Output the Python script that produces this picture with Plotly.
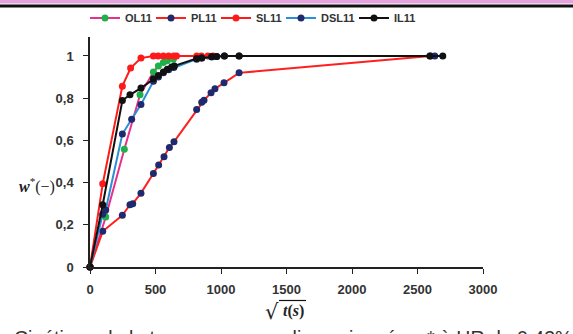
import plotly.graph_objects as go

# ---- data ----
ol11_x = [0, 120, 262, 382, 484, 522, 560, 590, 636]
ol11_y = [0, 0.237, 0.558, 0.816, 0.924, 0.953, 0.969, 0.978, 0.985]

pl11_x = [0, 97, 247, 305, 326, 389, 484, 524, 565, 606, 641, 814, 853, 870, 924, 954, 1023, 1138, 2600]
pl11_y = [0, 0.169, 0.245, 0.295, 0.30, 0.35, 0.443, 0.483, 0.523, 0.566, 0.593, 0.746, 0.781, 0.79, 0.826, 0.845, 0.873, 0.92, 1.0]

sl11_x = [0, 97, 247, 310, 389, 484, 520, 560, 600, 640, 660, 815, 850, 900, 940]
sl11_y = [0, 0.394, 0.857, 0.943, 0.99, 1, 1, 1, 1, 1, 1, 1, 1, 1, 1]

dsl11_x = [0, 97, 120, 247, 318, 389, 484, 522, 560, 600, 640, 814, 853, 929, 967, 1026, 1138, 2632]
dsl11_y = [0, 0.25, 0.27, 0.63, 0.70, 0.77, 0.88, 0.90, 0.92, 0.935, 0.945, 0.985, 0.99, 0.995, 0.998, 1.0, 1.0, 1.0]

il11_x = [0, 97, 247, 305, 389, 484, 522, 560, 590, 623, 644, 814, 853, 929, 967, 1026, 1138, 2594, 2693]
il11_y = [0, 0.295, 0.789, 0.816, 0.848, 0.892, 0.908, 0.924, 0.937, 0.948, 0.953, 0.988, 0.991, 0.998, 0.998, 1, 1, 1, 1]

x_ticks = [0, 500, 1000, 1500, 2000, 2500, 3000]
y_ticks = [0, 0.2, 0.4, 0.6, 0.8, 1]
y_ticktext = ["0", "0,2", "0,4", "0,6", "0,8", "1"]

series = [
    ("OL11", ol11_x, ol11_y, "#e8308a", "#1fb04a"),
    ("PL11", pl11_x, pl11_y, "#ff1f1f", "#1f2a6e"),
    ("SL11", sl11_x, sl11_y, "#ff1a1a", "#ff1a1a"),
    ("DSL11", dsl11_x, dsl11_y, "#2a8fd8", "#1f2a6e"),
    ("IL11", il11_x, il11_y, "#111111", "#111111"),
]

W, H = 573, 334
L, R, T, B = 90, 90, 37, 67
pw, ph = W - L - R, H - T - B

# legend entry marker centres (pixels)
legend_dots = [107, 173, 238, 303, 376]
legend_ids = ["legend", "legend2", "legend3", "legend4", "legend5"]

fig = go.Figure()
for (name, xs, ys, lc, mc), lid in zip(series, legend_ids):
    fig.add_trace(go.Scatter(
        x=xs, y=ys, name=f"<b>{name}</b>", mode="lines+markers",
        line=dict(color=lc, width=2),
        marker=dict(color=mc, size=7),
        cliponaxis=False, legend=lid,
    ))

def px(xp):
    return (xp - L) / pw

def py(yp):
    return (H - B - yp) / ph

legend_layout = {}
for lid, dot in zip(legend_ids, legend_dots):
    legend_layout[lid] = dict(
        orientation="h", xref="container", yref="container",
        x=(dot - 22) / W, y=1 - 18 / H, xanchor="left", yanchor="middle",
        font=dict(family="Liberation Sans", size=11, color="#333333"),
        itemwidth=30, bgcolor="rgba(0,0,0,0)",
    )

fig.update_layout(
    width=W, height=H,
    margin=dict(l=L, r=R, t=T, b=B, autoexpand=False),
    paper_bgcolor="white", plot_bgcolor="white",
    showlegend=True,
    font=dict(family="Liberation Sans", color="#333333"),
    xaxis=dict(range=[0, 3000], tickvals=x_ticks, ticktext=[f"<b>{v}</b>" for v in x_ticks],
               showgrid=False, zeroline=False, showline=True, linecolor="#222222", linewidth=1.5,
               ticks="outside", ticklen=5, tickcolor="#222222", automargin=False,
               ticklabelstandoff=5,
               tickfont=dict(family="Liberation Sans", size=13, color="#333333")),
    yaxis=dict(range=[0, 1.09], tickvals=y_ticks, ticktext=[f"<b>{t}</b>" for t in y_ticktext],
               showgrid=False, zeroline=False, showline=True, linecolor="#222222", linewidth=1.5,
               ticks="outside", ticklen=5, tickcolor="#222222", automargin=False,
               ticklabelstandoff=7,
               tickfont=dict(family="Liberation Sans", size=13, color="#333333")),
    shapes=[
        dict(type="rect", xref="paper", yref="paper", x0=px(0), x1=px(W), y0=py(0), y1=py(3.5),
             fillcolor="#e4a3df", line=dict(width=0), layer="above"),
        dict(type="rect", xref="paper", yref="paper", x0=px(0), x1=px(W), y0=py(4.5), y1=py(7.5),
             fillcolor="#111111", line=dict(width=0), layer="above"),
        dict(type="line", xref="paper", yref="paper", x0=px(279), x1=px(306), y0=py(300.5), y1=py(300.5),
             line=dict(color="#111111", width=1.2)),
    ],
    annotations=[
        dict(xref="paper", yref="paper", x=px(57), y=py(185), xanchor="right", showarrow=False,
             text="<b><i>w</i></b><sup>*</sup>(−)",
             font=dict(family="Liberation Serif", size=16, color="#222222")),
        dict(xref="paper", yref="paper", x=px(281), y=py(326), xanchor="right", showarrow=False,
             text="√",
             font=dict(family="DejaVu Serif", size=21, color="#222222")),
        dict(xref="paper", yref="paper", x=px(281), y=py(322), xanchor="left", showarrow=False,
             text="<b><i>t</i>(<i>s</i>)</b>",
             font=dict(family="Liberation Serif", size=16, color="#222222")),
        dict(xref="paper", yref="paper", x=px(293), y=py(325), xanchor="center", yanchor="top",
             showarrow=False,
             text="Cinétique de la teneur en eau adimensionnée <i>w</i>* à HR de 0,43%",
             font=dict(family="Liberation Sans", size=19.5, color="#333333")),
    ],
    **legend_layout,
)

fig.write_html(
    "out.html",
    config={"displayModeBar": False},
    post_script="document.body.style.margin='0';document.body.style.overflow='hidden';",
)
